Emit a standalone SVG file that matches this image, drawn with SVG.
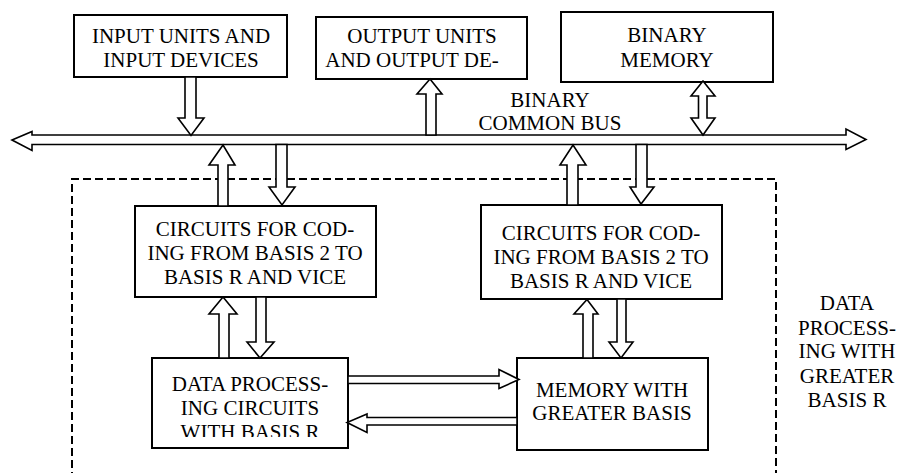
<svg xmlns="http://www.w3.org/2000/svg" width="900" height="473" viewBox="0 0 900 473">
  <style>
    .box { fill: #fff; stroke: #000; stroke-width: 2; }
    .arr { fill: #fff; stroke: #000; stroke-width: 1.6; stroke-linejoin: miter; }
    .frame { fill: none; stroke: #000; stroke-width: 2; stroke-dasharray: 8 4; }
    .lbl { font-family: "Liberation Serif", "Times New Roman", serif; font-size: 21px; fill: #000; text-anchor: middle; }
  </style>
  <defs>
    <clipPath id="clipLast">
      <rect x="140" y="350" width="220" height="87"/>
    </clipPath>
  </defs>

  <rect width="900" height="473" fill="#fff"/>

  <!-- dashed frame around the greater-basis section -->
  <path class="frame" d="M72,480 V179 H776 V480"/>

  <g id="input-units">
    <rect class="box" x="74" y="15" width="213" height="62"/>
    <text class="lbl" x="181" y="43">INPUT UNITS AND</text>
    <text class="lbl" x="181" y="67">INPUT DEVICES</text>
  </g>

  <g id="output-units">
    <rect class="box" x="316" y="17" width="211" height="62"/>
    <text class="lbl" x="422" y="43">OUTPUT UNITS</text>
    <text class="lbl" x="412" y="67">AND OUTPUT DE-</text>
  </g>

  <g id="binary-memory">
    <rect class="box" x="561" y="12" width="212" height="70"/>
    <text class="lbl" x="667" y="42">BINARY</text>
    <text class="lbl" x="667" y="67">MEMORY</text>
  </g>

  <g id="bus-label">
    <text class="lbl" x="550" y="107">BINARY</text>
    <text class="lbl" x="550" y="130">COMMON BUS</text>
  </g>

  <g id="coding-left">
    <rect class="box" x="135" y="206" width="241" height="91"/>
    <text class="lbl" x="255" y="236">CIRCUITS FOR COD-</text>
    <text class="lbl" x="255" y="260">ING FROM BASIS 2 TO</text>
    <text class="lbl" x="255" y="284">BASIS R AND VICE</text>
  </g>

  <g id="coding-right">
    <rect class="box" x="481" y="205" width="241" height="94"/>
    <text class="lbl" x="601" y="240">CIRCUITS FOR COD-</text>
    <text class="lbl" x="601" y="264">ING FROM BASIS 2 TO</text>
    <text class="lbl" x="601" y="288">BASIS R AND VICE</text>
  </g>

  <g id="data-processing">
    <rect class="box" x="152" y="358" width="196" height="90"/>
    <text class="lbl" x="250" y="391">DATA PROCESS-</text>
    <text class="lbl" x="250" y="415">ING CIRCUITS</text>
    <text class="lbl" x="250" y="439" clip-path="url(#clipLast)">WITH BASIS R</text>
  </g>

  <g id="greater-memory">
    <rect class="box" x="517" y="358" width="191" height="92"/>
    <text class="lbl" x="612" y="397">MEMORY WITH</text>
    <text class="lbl" x="612" y="420">GREATER BASIS</text>
  </g>

  <g id="section-label">
    <text class="lbl" x="847" y="310">DATA</text>
    <text class="lbl" x="847" y="335">PROCESS-</text>
    <text class="lbl" x="847" y="358">ING WITH</text>
    <text class="lbl" x="847" y="383">GREATER</text>
    <text class="lbl" x="847" y="407">BASIS R</text>
  </g>

  <g id="connectors">
    <!-- binary common bus, arrowheads at both ends -->
    <polygon class="arr" points="12,140 32,131.5 32,135 846,135 846,129 866,139.5 846,149.5 846,144.5 32,144.5 32,150.5"/>

    <!-- input units -> bus -->
    <polygon class="arr" points="185,77 196,77 196,118 204,118 191,135.5 178,118 185,118"/>
    <!-- bus -> output units -->
    <polygon class="arr" points="426,135 436,135 436,94 442,94 430,79 417,94 426,94"/>
    <!-- binary memory <-> bus -->
    <polygon class="arr" points="703,81 715,96 707,96 707,118 715,118 703,135 691,118 698.5,118 698.5,96 691,96"/>

    <!-- left coding circuits <-> bus -->
    <polygon class="arr" points="218,206 228,206 228,165 235,165 223,145 209,165 218,165"/>
    <polygon class="arr" points="276,144.5 287,144.5 287,187 295,187 282,205 269,187 276,187"/>

    <!-- right coding circuits <-> bus -->
    <polygon class="arr" points="567,205 578,205 578,165 586,165 573,145 560,165 567,165"/>
    <polygon class="arr" points="636,144.5 647,144.5 647,187 654,187 641,204 630,187 636,187"/>

    <!-- data processing <-> left coding circuits -->
    <polygon class="arr" points="219,358 229,358 229,314 237,314 223,297 209,314 219,314"/>
    <polygon class="arr" points="256,297 266,297 266,342 274,342 260,358 247,342 256,342"/>

    <!-- greater memory <-> right coding circuits -->
    <polygon class="arr" points="583,358 593,358 593,314 598,314 587,299.5 574,314 583,314"/>
    <polygon class="arr" points="617,299 626,299 626,342 633,342 621,358 609,342 617,342"/>

    <!-- data processing -> greater memory -->
    <polygon class="arr" points="348,376 499,376 499,369.5 519,379.5 499,388.5 499,383.5 348,383.5"/>
    <!-- greater memory -> data processing -->
    <polygon class="arr" points="517,417.5 367,417.5 367,414 347,422.5 367,432.5 367,425 517,425"/>
  </g>
</svg>
